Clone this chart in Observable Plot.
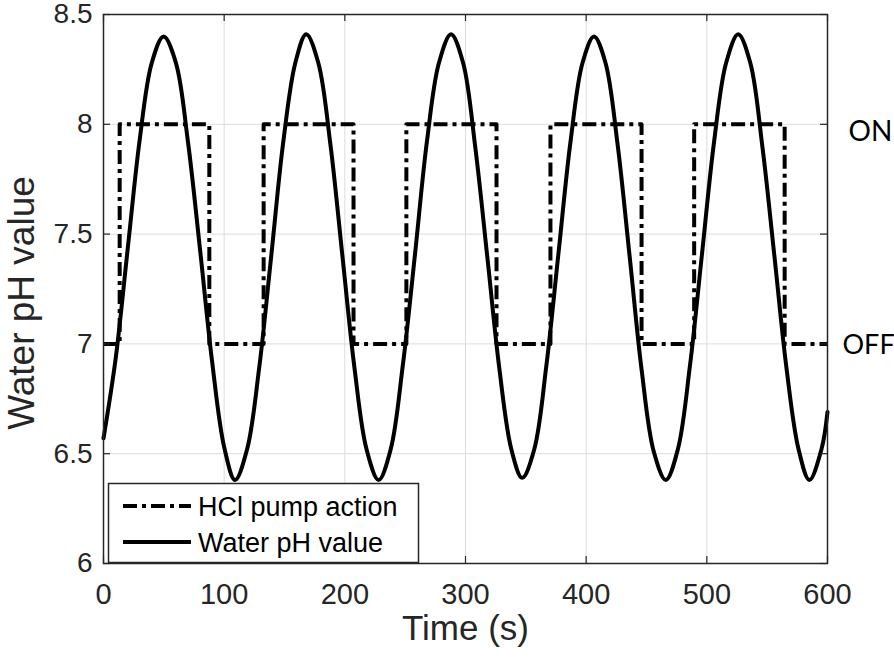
<!DOCTYPE html>
<html><head><meta charset="utf-8">
<script src="https://cdn.jsdelivr.net/npm/d3@7"></script>
<script src="https://cdn.jsdelivr.net/npm/@observablehq/plot@0.6"></script>
<style>
body{margin:0;background:#fff}
#chart{position:relative;width:894px;height:658px}
</style>
</head><body><div id="chart"></div>
<script>
// Water pH value readings (time in s, pH)
const phTime = [0,10,20,30,40,49.8,60,70,80,90,100,109,119,129,139,149,159,168,178,188,198,208,218,228,238,248,258,268,278,288,298,308,318,328,338,347,357,367,377,387,397,406.5,416,426,436,446,456,466,476,486,496,506,516,526,536,546,556,566,576,585,595,600];
const phValue = [6.57,6.93,7.43,7.93,8.28,8.40,8.28,7.92,7.43,6.92,6.53,6.38,6.52,6.89,7.40,7.92,8.28,8.41,8.28,7.91,7.40,6.89,6.52,6.38,6.52,6.90,7.40,7.92,8.28,8.41,8.28,7.90,7.40,6.89,6.52,6.39,6.52,6.90,7.41,7.92,8.28,8.40,8.28,7.91,7.40,6.88,6.51,6.38,6.52,6.90,7.41,7.92,8.28,8.41,8.28,7.90,7.40,6.89,6.52,6.38,6.52,6.69];
// HCl pump action (7 = OFF, 8 = ON)
const pumpTime = [0,13.4,87.7,132.7,207.2,251,325.7,370.4,445.9,489.5,564.5,600];
const pumpState = [7,8,7,8,7,8,7,8,7,8,7,7];
const xTicks = [0,100,200,300,400,500,600];
const yTicks = [6,6.5,7,7.5,8,8.5];
const stateLabels = ["ON","OFF"];
const stateLevels = [8,7];
const seriesNames = ["HCl pump action","Water pH value"];
const xLabel = "Time (s)";
const yLabel = "Water pH value";

const phData = phTime.map((t,i)=>({t, v: phValue[i]}));
const pumpData = pumpTime.map((t,i)=>({t, v: pumpState[i]}));
const ink = "#262626";
const dash = "14,5,4,5";
const font = "'Liberation Sans', Arial, Helvetica, sans-serif";
const W = 894, H = 658, mL = 103, mR = 67, mT = 14, mB = 95;
const fw = W - mL - mR, fh = H - mT - mB, tk = 7;

const plot = Plot.plot({
  width: W, height: H,
  marginLeft: mL, marginRight: mR, marginTop: mT, marginBottom: mB,
  style: {fontFamily: font, color: ink, background: "white", overflow: "visible"},
  x: {domain: [0,600]},
  y: {domain: [6,8.5]},
  marks: [
    Plot.gridX(xTicks, {stroke: "#dcdcdc", strokeOpacity: 1, strokeWidth: 1}),
    Plot.gridY(yTicks, {stroke: "#dcdcdc", strokeOpacity: 1, strokeWidth: 1}),
    Plot.line(pumpData, {x: "t", y: "v", curve: "step-after", stroke: "black", strokeWidth: 4, strokeDasharray: dash, strokeLinecap: "butt"}),
    Plot.line(phData, {x: "t", y: "v", curve: "catmull-rom", stroke: "black", strokeWidth: 4}),
    // inward ticks on all four sides
    Plot.tickX(xTicks, {x: d => d, insetTop: fh - tk, stroke: ink, strokeWidth: 1.2}),
    Plot.tickX(xTicks, {x: d => d, insetBottom: fh - tk, stroke: ink, strokeWidth: 1.2}),
    Plot.tickY(yTicks, {y: d => d, insetRight: fw - tk, stroke: ink, strokeWidth: 1.2}),
    Plot.tickY(yTicks, {y: d => d, insetLeft: fw - tk, stroke: ink, strokeWidth: 1.2}),
    Plot.axisX(xTicks, {anchor: "bottom", tickSize: 0, tickPadding: 20, fontSize: 29, label: null, tickFormat: d => String(d)}),
    Plot.axisY(yTicks, {anchor: "left", tickSize: 0, tickPadding: 11, fontSize: 28, label: null, tickFormat: d => String(d)}),
    Plot.frame({stroke: ink, strokeWidth: 1.5}),
    Plot.text([stateLabels[0]], {x: () => 600, y: () => stateLevels[0], text: d => d, dx: 21, dy: 8, textAnchor: "start", fontSize: 28, fontFamily: "Lato, 'Open Sans', sans-serif", fill: "black"}),
    Plot.text([stateLabels[1]], {x: () => 600, y: () => stateLevels[1], text: d => d, dx: 15, dy: 1, textAnchor: "start", fontSize: 27, fontFamily: "Lato, 'Open Sans', sans-serif", fill: "black"}),
    Plot.text([xLabel], {frameAnchor: "bottom", textAnchor: "middle", dy: 76, fontSize: 35, fill: ink}),
    Plot.text([yLabel], {frameAnchor: "left", textAnchor: "middle", dx: -81, dy: 14, rotate: -90, fontSize: 37, fill: ink})
  ]
});

// Legend box in the lower-left corner of the frame
const xs = plot.scale("x"), ys = plot.scale("y");
const x0 = xs.apply(0), yB = ys.apply(6);
const svg = d3.select(plot);
const g = svg.append("g").attr("font-family", font).attr("text-anchor", "start");
g.append("rect").attr("x", x0 + 5.5).attr("y", yB - 79.5).attr("width", 310).attr("height", 79)
  .attr("fill", "white").attr("stroke", ink).attr("stroke-width", 1.5);
const rows = [{name: seriesNames[0], dash: dash, y: yB - 57}, {name: seriesNames[1], dash: null, y: yB - 21}];
rows.forEach(r => {
  g.append("line").attr("x1", x0 + 20).attr("x2", x0 + 88).attr("y1", r.y).attr("y2", r.y)
    .attr("stroke", "black").attr("stroke-width", 4).attr("stroke-dasharray", r.dash);
  g.append("text").attr("x", x0 + 95).attr("y", r.y + 9.5).attr("font-size", 27)
    .attr("text-anchor", "start").attr("fill", "black").text(r.name);
});
document.getElementById("chart").appendChild(plot);
</script>
</body></html>
